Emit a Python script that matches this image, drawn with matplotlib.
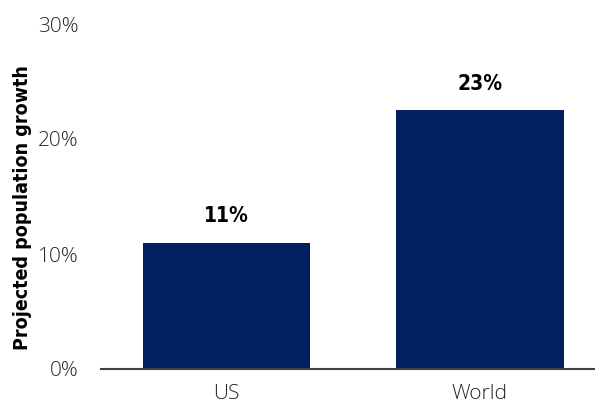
import matplotlib.pyplot as plt
from matplotlib.ticker import PercentFormatter

regions = ["US", "World"]
growth = [11.0, 22.5]
growth_labels = ["11%", "23%"]
yticks = [0, 10, 20, 30]

bar_color = "#002060"
bold_font = dict(family="DejaVu Sans", stretch="condensed", fontweight="bold")

fig = plt.figure(figsize=(5.95, 4.09), dpi=100)
ax = fig.add_axes([101 / 595, 1 - 369 / 409, 1 - 101 / 595, (369 - 24) / 409])

x = range(len(regions))
ax.bar(x, growth, width=0.66, color=bar_color, zorder=2)

for xi, v, lab in zip(x, growth, growth_labels):
    ax.annotate(lab, (xi, v), xytext=(0, 19), textcoords="offset points",
                ha="center", va="center", fontsize=15, **bold_font)

ax.set_xlim(-0.495, 1.454)
ax.set_ylim(0, 30)
ax.set_yticks(yticks)
ax.yaxis.set_major_formatter(PercentFormatter(decimals=0))
ax.set_xticks(list(x))
ax.set_xticklabels(regions)

for s in ["top", "right", "left"]:
    ax.spines[s].set_visible(False)
ax.spines["bottom"].set_color("#404040")
ax.spines["bottom"].set_linewidth(1.5)
ax.spines["bottom"].set_zorder(3)

ax.tick_params(axis="both", length=0, labelsize=15, labelcolor="#262626")
ax.tick_params(axis="y", pad=16)
ax.tick_params(axis="x", pad=11)
for t in ax.get_xticklabels() + ax.get_yticklabels():
    t.set_family(["Open Sans", "DejaVu Sans"])
    t.set_fontweight("light")

fig.text(23 / 595, 1 - 208 / 409, "Projected population growth", rotation=90,
         ha="center", va="center", fontsize=14, **bold_font)

fig.savefig("out.png", dpi=100)
